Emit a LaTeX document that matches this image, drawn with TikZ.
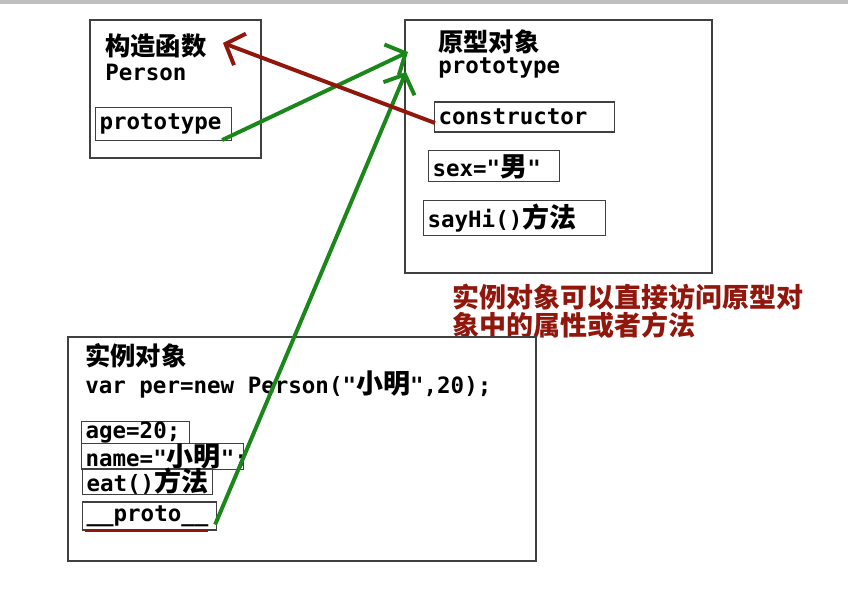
\documentclass[tikz,border=0pt]{standalone}
\usepackage{fontspec}
\setmonofont{DejaVu Sans Mono}
\newfontfamily\cjk[Scale=1.2]{Noto Sans CJK SC}
\usetikzlibrary{arrows.meta}
\definecolor{pengreen}{RGB}{25,135,25}
\definecolor{penred}{RGB}{145,22,12}
\newcommand{\zh}[1]{{\cjk #1}}
\tikzset{
    frame/.style={draw=black!75, line width=1pt},
    code/.style={anchor=west, inner sep=0pt, font=\ttfamily\bfseries\fontsize{16}{18}\selectfont},
    title/.style={anchor=west, inner sep=0pt, font=\cjk\bfseries\fontsize{15}{18}\selectfont},
    slot/.style={code, draw=black!75, line width=0.8pt, inner xsep=0.1cm, inner ysep=0pt, text width=#1, align=left},
    link/.style={line width=2.8pt, -{Straight Barb[length=11pt,width=24pt]}},
}
\begin{document}
\begin{tikzpicture}
            \useasboundingbox (0,0) rectangle (21.2,-15.3);
            \fill[gray!50] (0,0) rectangle (21.2,-0.1);

            \draw[frame] (2.25,-0.5) rectangle (6.525,-3.95);
            \node[title] (fn) at (2.625,-1.15) {构造函数};
            \node[code] (fnname) at (2.625,-1.8) {Person};
            \node[slot=3.2cm, minimum height=0.825cm] (ptype) at (2.375,-3.1) {prototype};

            \draw[frame] (10.125,-0.5) rectangle (17.8,-6.825);
            \node[title] (obj) at (10.95,-1.05) {原型对象};
            \node[code] (objname) at (10.95,-1.7) {prototype};
            \node[slot=4.3cm, minimum height=0.75cm] (ctor) at (10.85,-2.925) {constructor};
            \node[slot=3.075cm, minimum height=0.775cm] (sex) at (10.7,-4.16) {sex="\zh{男}"};
            \node[slot=4.35cm, minimum height=0.875cm] (sayhi) at (10.575,-5.46) {sayHi()\zh{方法}};

            \node[title, anchor=north west, align=left, text=penred,
                  font=\cjk\bfseries\fontsize{16}{18.5}\selectfont] (note) at (11.3,-7.1)
                {实例对象可以直接访问原型对\\象中的属性或者方法};

            \draw[frame] (1.7,-8.425) rectangle (13.4,-14.025);
            \node[title] (inst) at (2.125,-8.9) {实例对象};
            \node[code] (newper) at (2.125,-9.6) {var per=new Person("\zh{小明}",20);};
            \node[slot=2.5cm, minimum height=0.525cm] (age) at (2.025,-10.81) {age=20;};
            \node[slot=3.85cm, minimum height=0.625cm] (name) at (2.025,-11.41) {name="\zh{小明}";};
            \node[slot=3.05cm, minimum height=0.575cm] (eat) at (2.05,-12.04) {eat()\zh{方法}};
            \node[slot=3.15cm, minimum height=0.7cm] (pr) at (2.05,-12.9) {\_\_proto\_\_};
            \draw[penred, line width=2.2pt] ([xshift=0.075cm]pr.south west) -- ([xshift=-0.225cm]pr.south east);

            \coordinate (tipA) at (10.2,-1.3);
            \coordinate (tipB) at (10.15,-1.8);
            \coordinate (tipC) at (5.575,-1.075);

            \draw[link, pengreen] ([shift={(-0.25,0.025)}]ptype.south east) -- (tipA);
            \draw[link, pengreen] ([shift={(-0.05,0.15)}]pr.south east) -- (tipB);
            \draw[link, penred] ([shift={(0.025,-0.15)}]ctor.west) -- (tipC);
        \end{tikzpicture}
\end{document}
